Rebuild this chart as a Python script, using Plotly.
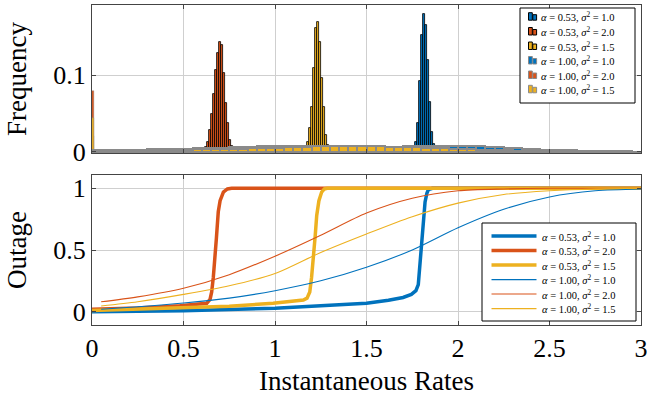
import plotly.graph_objects as go

# ---------------- data ----------------
series_labels = [
    "<i>α</i> = 0.53, <i>σ</i><sup>2</sup> = 1.0",
    "<i>α</i> = 0.53, <i>σ</i><sup>2</sup> = 2.0",
    "<i>α</i> = 0.53, <i>σ</i><sup>2</sup> = 1.5",
    "<i>α</i> = 1.00, <i>σ</i><sup>2</sup> = 1.0",
    "<i>α</i> = 1.00, <i>σ</i><sup>2</sup> = 2.0",
    "<i>α</i> = 1.00, <i>σ</i><sup>2</sup> = 1.5",
]
colors = ["#0072BD", "#D95319", "#EDB120"]

# narrow histograms (alpha = 0.53): first bin left edge and heights
narrow_bin_width = 0.011
narrow_start = [1.763, 0.617, 1.173]
narrow_blue = [0.013, 0.037, 0.092, 0.153, 0.180, 0.166, 0.120, 0.065, 0.026, 0.010]
narrow_red = [0.006, 0.013, 0.029, 0.049, 0.076, 0.107, 0.129, 0.143, 0.140, 0.103,
              0.064, 0.037, 0.015, 0.007]
narrow_yellow = [0.013, 0.031, 0.059, 0.110, 0.162, 0.170, 0.144, 0.096, 0.059, 0.022, 0.009]

# wide histograms (alpha = 1.00): mass at zero rate + bins of 0.05 from 0 to 3
zero_bin_width = 0.011
zero_bin = [0.020, 0.080, 0.044]
wide_bin_width = 0.05
wide_blue = [0.8, 0.9, 1.0, 1.0, 1.1, 1.1, 1.2, 1.2, 1.3, 1.4,
             1.6, 1.7, 1.9, 2.0, 2.1, 2.2, 2.4, 2.5, 2.7, 2.9,
             3.1, 3.3, 3.6, 3.8, 4.0, 4.3, 4.5, 4.8, 5.0, 5.3,
             5.6, 6.0, 6.4, 6.8, 7.1, 7.3, 7.5, 7.7, 7.9, 8.1,
             8.0, 7.6, 7.0, 6.3, 5.6, 4.9, 4.2, 3.5, 3.0, 2.6,
             2.2, 1.9, 1.6, 1.4, 1.2, 1.0, 0.8, 0.6, 0.4, 0.2]
wide_red = [2.0, 2.1, 2.2, 2.3, 2.5, 2.7, 2.9, 3.1, 3.3, 3.6,
            3.9, 4.3, 4.7, 5.1, 5.5, 5.9, 6.3, 6.7, 7.0, 7.3,
            7.5, 7.6, 7.7, 7.8, 7.9, 8.0, 7.9, 7.6, 7.1, 6.4,
            6.0, 5.4, 4.8, 4.2, 3.6, 3.0, 2.4, 1.8, 1.3, 0.9,
            0.6, 0.4, 0.3, 0.2, 0.15, 0.1, 0.05, 0.03, 0.02, 0.01,
            0, 0, 0, 0, 0, 0, 0, 0, 0, 0]
wide_yellow = [1.6, 1.7, 1.8, 1.9, 2.0, 2.1, 2.2, 2.3, 2.4, 2.6,
               2.8, 3.0, 3.2, 3.4, 3.6, 3.8, 4.0, 4.2, 4.5, 4.8,
               5.3, 5.9, 6.4, 6.8, 7.0, 7.2, 7.3, 7.4, 7.4, 7.4,
               7.2, 7.0, 6.7, 6.4, 6.0, 5.6, 5.2, 4.8, 4.4, 4.0,
               3.5, 3.0, 2.6, 2.3, 2.0, 1.8, 1.5, 1.3, 1.1, 0.9,
               0.7, 0.6, 0.5, 0.4, 0.3, 0.25, 0.2, 0.15, 0.1, 0.05]
wide_scale = 0.001  # wide histogram values are given in thousandths

# outage curves, alpha = 0.53 (thick)
out053_blue_x = [0, 0.5, 1.0, 1.25, 1.5, 1.62, 1.70, 1.745, 1.77, 1.783, 1.793, 1.80, 1.81, 1.82, 1.83, 1.838, 1.86, 3.0]
out053_blue_y = [0.0, 0.008, 0.028, 0.045, 0.068, 0.092, 0.115, 0.14, 0.17, 0.22, 0.40, 0.57, 0.74, 0.89, 0.96, 0.99, 1.0, 1.0]
out053_red_x = [0, 0.25, 0.48, 0.6, 0.627, 0.645, 0.654, 0.663, 0.672, 0.68, 0.69, 0.70, 0.718, 0.74, 0.763, 3.0]
out053_red_y = [0.02, 0.03, 0.048, 0.060, 0.068, 0.10, 0.16, 0.28, 0.43, 0.60, 0.81, 0.90, 0.97, 0.995, 1.0, 1.0]
out053_yellow_x = [0, 0.48, 0.75, 0.99, 1.1, 1.155, 1.175, 1.19, 1.20, 1.21, 1.22, 1.228, 1.24, 1.255, 1.27, 1.285, 3.0]
out053_yellow_y = [0.01, 0.028, 0.045, 0.068, 0.085, 0.095, 0.11, 0.16, 0.28, 0.43, 0.62, 0.78, 0.90, 0.97, 0.995, 1.0, 1.0]

# outage curves, alpha = 1.00 (thin)
out100_x = [0.05, 0.25, 0.5, 0.75, 1.0, 1.25, 1.5, 1.75, 2.0, 2.25, 2.5, 2.75, 3.0]
out100_blue_y = [0.02, 0.04, 0.07, 0.11, 0.17, 0.25, 0.36, 0.50, 0.68, 0.83, 0.93, 0.98, 0.995]
out100_red_y = [0.08, 0.12, 0.19, 0.30, 0.45, 0.62, 0.80, 0.92, 0.98, 0.995, 1.0, 1.0, 1.0]
out100_yellow_y = [0.046, 0.08, 0.14, 0.21, 0.31, 0.48, 0.63, 0.77, 0.88, 0.95, 0.98, 0.995, 1.0]

x_ticks = [0, 0.5, 1, 1.5, 2, 2.5, 3]
freq_ticks = [0, 0.1]
freq_tick_text = ["0", "0.1"]
outage_ticks = [0, 0.5, 1]
outage_tick_text = ["0", "0.5", "1"]

# ---------------- layout geometry (pixels) ----------------
W, H = 647, 398
ML, MR, MT, MB = 92, 6, 5, 73
PW, PH = W - ML - MR, H - MT - MB


def px(xp):
    return (xp - ML) / PW


def py(yp):
    return (H - MB - yp) / PH


font_family = "Liberation Serif"

# ---------------- figure ----------------
fig = go.Figure()

narrow = [narrow_blue, narrow_red, narrow_yellow]
for i in range(3):
    h = narrow[i]
    xs = [narrow_start[i] + narrow_bin_width * (k + 0.5) for k in range(len(h))]
    fig.add_trace(go.Bar(
        x=xs, y=h, width=[narrow_bin_width] * len(h),
        marker=dict(color=colors[i], line=dict(color="black", width=0.8)),
        name=series_labels[i], xaxis="x2", yaxis="y2", showlegend=False))

wide = [wide_blue, wide_red, wide_yellow]
for i in range(3):
    h = [zero_bin[i]] + [v * wide_scale for v in wide[i]]
    xs = [zero_bin_width / 2] + [wide_bin_width * (k + 0.5) for k in range(len(wide[i]))]
    ws = [zero_bin_width] + [wide_bin_width] * len(wide[i])
    lw = [0.4] + [2] * len(wide[i])
    fig.add_trace(go.Bar(
        x=xs, y=h, width=ws,
        marker=dict(color=colors[i], line=dict(color="#8a8a8a", width=lw)),
        name=series_labels[3 + i], xaxis="x2", yaxis="y2", showlegend=False))

thick = [(out053_blue_x, out053_blue_y), (out053_red_x, out053_red_y), (out053_yellow_x, out053_yellow_y)]
for i in range(3):
    fig.add_trace(go.Scatter(
        x=thick[i][0], y=thick[i][1], mode="lines",
        line=dict(color=colors[i], width=3.5),
        name=series_labels[i], xaxis="x", yaxis="y", showlegend=False))

thin = [out100_blue_y, out100_red_y, out100_yellow_y]
for i in range(3):
    fig.add_trace(go.Scatter(
        x=out100_x, y=thin[i], mode="lines",
        line=dict(color=colors[i], width=1.1, shape="spline", smoothing=0.8),
        name=series_labels[3 + i], xaxis="x", yaxis="y", showlegend=False))

# ---------------- compact legends (drawn as boxes, keys and text) ----------------
shapes = []
annotations = []

# top legend (histograms)
top_box = (520, 8, 635, 103)
top_rows = [16.7, 31.5, 46, 60.5, 75, 89.3]
shapes.append(dict(type="rect", xref="paper", yref="paper",
                   x0=px(top_box[0]), x1=px(top_box[2]), y0=py(top_box[3]), y1=py(top_box[1]),
                   line=dict(color="black", width=1), fillcolor="white", layer="above"))
for k, yc in enumerate(top_rows):
    edge = "black" if k < 3 else "#8a8a8a"
    col = colors[k % 3]
    for (xa, xb, top) in [(528.5, 532.3, yc - 4), (532.8, 536.6, yc - 2)]:
        shapes.append(dict(type="rect", xref="paper", yref="paper",
                           x0=px(xa), x1=px(xb), y0=py(yc + 3.5), y1=py(top),
                           line=dict(color=edge, width=1), fillcolor=col, layer="above"))
    annotations.append(dict(xref="paper", yref="paper", x=px(538.5), y=py(yc),
                            xanchor="left", yanchor="middle", showarrow=False,
                            text=series_labels[k], font=dict(size=10.5, family=font_family)))

# bottom legend (outage curves)
bot_box = (482, 223, 636, 321)
bot_rows = [236, 250.6, 265, 279.6, 294, 308.6]
shapes.append(dict(type="rect", xref="paper", yref="paper",
                   x0=px(bot_box[0]), x1=px(bot_box[2]), y0=py(bot_box[3]), y1=py(bot_box[1]),
                   line=dict(color="black", width=1), fillcolor="white", layer="above"))
for k, yc in enumerate(bot_rows):
    shapes.append(dict(type="line", xref="paper", yref="paper",
                       x0=px(491.5), x1=px(536.5), y0=py(yc), y1=py(yc),
                       line=dict(color=colors[k % 3], width=3.5 if k < 3 else 1.1), layer="above"))
    annotations.append(dict(xref="paper", yref="paper", x=px(540), y=py(yc),
                            xanchor="left", yanchor="middle", showarrow=False,
                            text=series_labels[k], font=dict(size=10.5, family=font_family)))

axis_common = dict(showline=True, linecolor="#444444", linewidth=1, mirror="ticks",
                   ticks="inside", ticklen=4, tickcolor="#444444", automargin=False,
                   gridcolor="#cfcfcf", gridwidth=1, zeroline=False,
                   ticklabeloverflow="allow",
                   tickfont=dict(size=26, family=font_family))

fig.update_layout(
    width=W, height=H,
    margin=dict(l=ML, r=MR, t=MT, b=MB, autoexpand=False),
    plot_bgcolor="white", paper_bgcolor="white",
    font=dict(family=font_family, size=26, color="black"),
    barmode="overlay", bargap=0,
    showlegend=False,
    xaxis=dict(domain=[0, 1], anchor="y", range=[0, 3], tickvals=x_ticks,
               title=dict(text="Instantaneous Rates", font=dict(size=27, family=font_family), standoff=8),
               **axis_common),
    yaxis=dict(domain=[0, 150 / 320], anchor="x", range=[-0.108, 1.108],
               tickvals=outage_ticks, ticktext=outage_tick_text,
               title=dict(text="Outage", font=dict(size=27, family=font_family), standoff=18),
               **axis_common),
    xaxis2=dict(domain=[0, 1], anchor="y2", range=[0, 3], tickvals=x_ticks,
                showticklabels=False, matches="x", **axis_common),
    yaxis2=dict(domain=[172 / 320, 1], anchor="x2", range=[-0.0017, 0.192],
                tickvals=freq_ticks, ticktext=freq_tick_text,
                title=dict(text="Frequency", font=dict(size=27, family=font_family), standoff=18),
                **axis_common),
    shapes=shapes,
    annotations=annotations,
)

fig.write_html("out.html", config={"displayModeBar": False},
               post_script="document.body.style.margin='0';document.body.style.overflow='hidden';")
